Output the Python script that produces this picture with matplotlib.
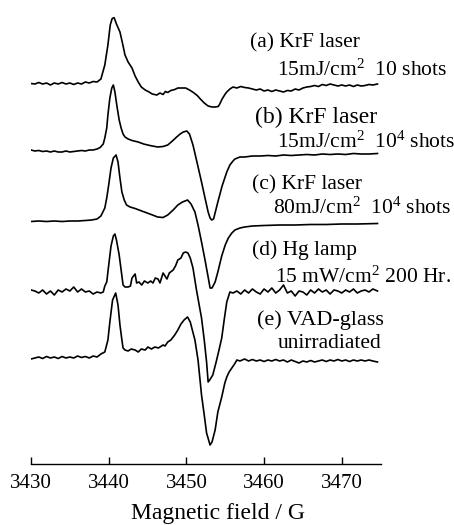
import matplotlib
matplotlib.use("Agg")
import matplotlib.pyplot as plt
import numpy as np

plt.rcParams['font.family'] = ['Liberation Serif', 'DejaVu Serif']
plt.rcParams['mathtext.fontset'] = 'custom'
plt.rcParams['mathtext.rm'] = 'Liberation Serif'
plt.rcParams['mathtext.it'] = 'Liberation Serif:italic'

# ---------------- data (magnetic field in G, ESR signal in arb. units) ----------------
field_a = [
    3430.0, 3430.5, 3431.0, 3431.5, 3432.0, 3432.5, 3433.0, 3433.5, 3434.0, 3434.5,
    3435.0, 3435.5, 3436.0, 3436.5, 3437.0, 3437.5, 3438.0, 3438.5, 3439.0, 3439.5,
    3439.9, 3440.2, 3440.45, 3440.7, 3441.0, 3441.45, 3441.8, 3442.1, 3442.5, 3443.0,
    3443.4, 3443.8, 3444.2, 3444.7, 3445.2, 3445.6, 3446.2, 3446.6, 3447.0, 3447.3,
    3447.6, 3448.0, 3448.5, 3448.9, 3449.4, 3449.9, 3450.4, 3450.9, 3451.4, 3451.8,
    3452.3, 3452.8, 3453.3, 3453.7, 3454.1, 3454.3, 3454.6, 3455.0, 3455.2, 3455.6,
    3456.0, 3456.5, 3457.0, 3457.5, 3458.0, 3458.5, 3459.0, 3459.5, 3460.0, 3460.5,
    3461.0, 3461.5, 3462.0, 3462.5, 3463.0, 3463.5, 3464.0, 3464.5, 3465.0, 3465.5,
    3466.0, 3466.5, 3467.0, 3467.5, 3468.0, 3468.5, 3469.0, 3469.5, 3470.0, 3470.5,
    3471.0, 3471.5, 3472.0, 3472.5, 3473.0, 3473.5, 3474.0, 3474.6]
signal_a = [
    -0.5, -1, 0.5, -1, 0, -2, 0, -1, 0.5, -1,
    0, -1.5, 0, -1, 1, 0, 1.5, 1, 4, 18,
    38, 58, 64.5, 65.3, 59, 51, 39, 28, 21, 15,
    7, 1, -4, -7, -9, -11, -12, -10, -11.5, -8.5,
    -9.5, -7.5, -6.5, -5, -5, -5, -7, -9.5, -12.5, -16,
    -20, -23, -24, -24, -23.5, -21, -16, -11, -9, -6,
    -4, -5, -3.5, -4.5, -5, -6, -7, -6, -8, -7,
    -8.5, -7, -8, -9, -7.5, -8, -6, -7, -5, -4,
    -3.5, -2.5, -3.5, -1.5, -2.5, -1, -2, -3, -2, -3,
    -2, -3.5, -2, -3, -2.5, -1.5, -2, -1]

field_b = [
    3430.0, 3430.5, 3431.0, 3431.5, 3432.0, 3432.5, 3433.0, 3433.5, 3434.0, 3434.5,
    3435.0, 3435.5, 3436.0, 3436.5, 3437.0, 3437.5, 3438.0, 3438.5, 3438.9, 3439.3,
    3439.5, 3439.75, 3439.9, 3440.15, 3440.4, 3440.6, 3440.8, 3441.1, 3441.35, 3441.6,
    3441.85, 3442.1, 3442.5, 3443.0, 3443.8, 3444.5, 3445.3, 3446.3, 3447.0, 3447.6,
    3448.2, 3448.75, 3449.2, 3449.6, 3450.05, 3450.4, 3450.85, 3451.3, 3451.95, 3452.4,
    3452.8, 3453.05, 3453.25, 3453.5, 3454.05, 3454.6, 3455.2, 3455.6, 3456.0, 3456.25,
    3456.9, 3457.5, 3458.5, 3459.5, 3460.5, 3461.5, 3462.5, 3463.5, 3464.5, 3465.5,
    3466.5, 3467.5, 3468.5, 3469.5, 3470.5, 3471.5, 3472.5, 3473.5, 3474.6]
signal_b = [
    1, 0, 0.5, -0.5, 0, -1, 0, -1, -1, 0,
    -1, -0.5, 0, 0.5, 0, 1, 1, 2, 3.5, 7,
    13, 23, 36, 53, 63, 66, 59, 43, 31, 23,
    17, 14, 12, 10.5, 9, 7, 5.5, 4, 4.5, 6,
    10, 14, 17, 19, 20, 17, 6, -9, -31, -47,
    -61, -67, -69, -68, -51, -35, -21, -14, -10, -8,
    -6, -6, -5, -5, -4.5, -5, -4, -4.5, -4, -3.5,
    -4, -3, -3.5, -3, -3.5, -2.5, -3, -3, -2.5]

field_c = [
    3430.0, 3431.0, 3432.0, 3433.0, 3434.0, 3435.0, 3436.0, 3437.0, 3437.8, 3438.5,
    3439.0, 3439.5, 3439.75, 3440.0, 3440.3, 3440.6, 3440.95, 3441.2, 3441.45, 3441.7,
    3442.0, 3442.3, 3442.75, 3443.4, 3444.25, 3445.3, 3446.3, 3447.0, 3447.6, 3448.3,
    3448.9, 3449.5, 3450.15, 3450.6, 3451.1, 3451.5, 3451.95, 3452.4, 3452.8, 3453.05,
    3453.3, 3453.7, 3454.05, 3454.55, 3455.0, 3455.4, 3455.85, 3456.25, 3456.9, 3457.5,
    3458.5, 3460.0, 3462.0, 3464.0, 3466.0, 3468.0, 3470.0, 3472.0, 3474.6]
signal_c = [
    -0.5, 0, -0.5, 0, -0.5, 0, 0, 0.5, 1, 2,
    5, 13, 23, 36, 53, 63, 66, 59, 43, 29,
    21, 16, 14, 12.5, 10, 7, 4, 3.5, 6, 11,
    16, 19, 21, 17, 9, -4, -21, -39, -56, -67,
    -67, -61, -51, -35, -24, -17, -12, -9, -7, -6,
    -5, -4.5, -4, -4, -3.5, -3.5, -3, -3, -2.5]

field_d = [
    3430.0, 3430.5, 3431.0, 3431.5, 3432.0, 3432.5, 3433.0, 3433.5, 3434.0, 3434.5,
    3435.0, 3435.5, 3436.0, 3436.5, 3437.0, 3437.5, 3438.0, 3438.5, 3439.0, 3439.3,
    3439.5, 3439.75, 3440.05, 3440.3, 3440.6, 3440.8, 3441.0, 3441.35, 3441.6, 3441.85,
    3442.1, 3442.5, 3442.8, 3443.0, 3443.4, 3443.6, 3443.9, 3444.25, 3444.6, 3445.05,
    3445.4, 3445.7, 3446.0, 3446.35, 3446.6, 3447.0, 3447.25, 3447.5, 3447.8, 3448.3,
    3448.6, 3448.9, 3449.3, 3449.6, 3449.9, 3450.2, 3450.5, 3450.85, 3451.3, 3451.95,
    3452.3, 3452.6, 3452.8, 3453.0, 3453.4, 3453.8, 3454.2, 3454.55, 3454.9, 3455.2,
    3455.6, 3456.0, 3456.5, 3457.0, 3457.5, 3458.0, 3458.5, 3459.0, 3459.5, 3460.0,
    3460.5, 3461.0, 3461.5, 3462.0, 3462.5, 3463.0, 3463.5, 3464.0, 3464.5, 3465.0,
    3465.5, 3466.0, 3466.5, 3467.0, 3467.5, 3468.0, 3468.5, 3469.0, 3469.5, 3470.0,
    3470.5, 3471.0, 3471.5, 3472.0, 3472.5, 3473.0, 3473.5, 3474.0, 3474.6]
signal_d = [
    2, 1, -1, 2, -2, 1, -3, 2, 0, 3,
    1, 5, 0, 3, 0, 1, -2, 0, -1, 0,
    6, 10, 30, 46, 56, 58, 52, 37, 22, 7,
    5, 5, 6, 14, 18, 9, 10, 7, 11, 9,
    11, 9, 14, 13, 9, 19, 16, 13, 19, 22,
    26, 32, 34, 39, 40, 39, 34, 24, 2, -26,
    -48, -70, -90, -88, -83, -71, -58, -46, -26, -10,
    0, -1, 1, -2, 2, -1, 3, 0, -2, 3,
    0, 4, -1, 2, 7, -1, 1, -4, 1, 0,
    -3, 2, -1, 3, 0, 2, -2, 2, 1, -1,
    2, 0, 3, -1, 1, 2, 0, 3, 1]

field_e = [
    3430.0, 3430.5, 3431.0, 3431.5, 3432.0, 3432.5, 3433.0, 3433.5, 3434.0, 3434.5,
    3435.0, 3435.5, 3436.0, 3436.5, 3437.0, 3437.5, 3438.0, 3438.5, 3439.0, 3439.5,
    3439.9, 3440.15, 3440.5, 3440.9, 3441.2, 3441.45, 3441.7, 3441.85, 3442.1, 3442.5,
    3442.9, 3443.4, 3443.8, 3444.2, 3444.7, 3445.05, 3445.5, 3445.95, 3446.4, 3447.0,
    3447.25, 3447.6, 3448.0, 3448.5, 3448.9, 3449.3, 3449.7, 3450.15, 3450.5, 3451.1,
    3451.5, 3451.95, 3452.3, 3452.6, 3453.05, 3453.3, 3453.7, 3454.05, 3454.55, 3454.95,
    3455.2, 3455.5, 3455.85, 3456.2, 3456.5, 3456.9, 3457.5, 3458.0, 3458.5, 3459.0,
    3459.5, 3460.0, 3460.5, 3461.0, 3461.5, 3462.0, 3462.5, 3463.0, 3463.5, 3464.0,
    3464.5, 3465.0, 3465.5, 3466.0, 3466.5, 3467.0, 3467.5, 3468.0, 3468.5, 3469.0,
    3469.5, 3470.0, 3470.5, 3471.0, 3471.5, 3472.0, 3472.5, 3473.0, 3473.5, 3474.0,
    3474.6]
signal_e = [
    -1, 0, 1, -0.5, 1.5, 0, 1, -0.5, 1.5, 0,
    1, 0, 2, 0.5, 1.5, 0, 2, 1, 4, 6,
    18, 36, 58, 65, 53, 33, 18, 10, 8, 7,
    9, 8, 6, 9, 8, 11, 9, 11, 10, 13,
    12, 16, 18, 23, 28, 34, 38, 41, 36, 18,
    -2, -37, -57, -75, -87, -84, -72, -54, -39, -25,
    -19, -14, -10, -6, -2, -3, -1, -3, -1.5, -3,
    -2, -3.5, -2, -3, -1.5, -3, -2, -4, -2, -3.5,
    -5, -3, -4, -2.5, -4, -3, -2, -3.5, -2, -3,
    -1.5, -3, -2, -3.5, -2, -3, -2, -3, -2, -3,
    -4]

fields = [field_a, field_b, field_c, field_d, field_e]
signals = [signal_a, signal_b, signal_c, signal_d, signal_e]
offsets = [381, 313, 243, 172, 106]

x_ticks = [3430, 3440, 3450, 3460, 3470]
x_label = "Magnetic field / G"

labels_line1 = ["(a) KrF laser", "(b) KrF laser", "(c) KrF laser", "(d) Hg lamp", "(e) VAD-glass"]
labels_line2 = [r"15mJ/cm$^2$  10 shots", r"15mJ/cm$^2$  10$^4$ shots",
                r"80mJ/cm$^2$  10$^4$ shots", r"15 mW/cm$^2$ 200 Hr.", "unirradiated"]

# ---------------- figure ----------------
W, H = 454, 525
fig = plt.figure(figsize=(W / 100, H / 100), dpi=100)
ax_left, ax_right, ax_bottom, ax_top = 31, 380.6, 464, 5
ax = fig.add_axes([ax_left / W, 1 - ax_bottom / H, (ax_right - ax_left) / W, (ax_bottom - ax_top) / H])

for f, s, off in zip(fields, signals, offsets):
    ax.plot(f, np.asarray(s) + off, color='black', lw=1.2, solid_joinstyle='round')

ax.set_xlim(3430, 3475)
ax.set_ylim(0, ax_bottom - ax_top)
for side in ['left', 'right', 'top']:
    ax.spines[side].set_visible(False)
ax.spines['bottom'].set_linewidth(1.0)
ax.set_yticks([])
ax.set_xticks(x_ticks)
ax.tick_params(axis='x', direction='in', length=5, width=1.0, labelsize=15, pad=7)
ax.set_xlabel(x_label, fontsize=17, labelpad=6)
ax.xaxis.set_label_coords(0.535, -0.085)

line1_pos = [(250, 43, 15.5), (255, 117, 17), (252, 185, 15.5), (252, 250, 15.5), (257, 320, 16)]
line2_pos = [(277, 70), (277, 142), (273, 208), (275, 277), (278, 344)]
for (t1, t2, (x1, y1, fs1), (x2, y2)) in zip(labels_line1, labels_line2, line1_pos, line2_pos):
    fig.text(x1 / W, 1 - y1 / H, t1, fontsize=fs1, ha='left', va='center')
    fig.text(x2 / W, 1 - y2 / H, t2, fontsize=15.5, ha='left', va='center')

fig.savefig("out.png", dpi=100)
